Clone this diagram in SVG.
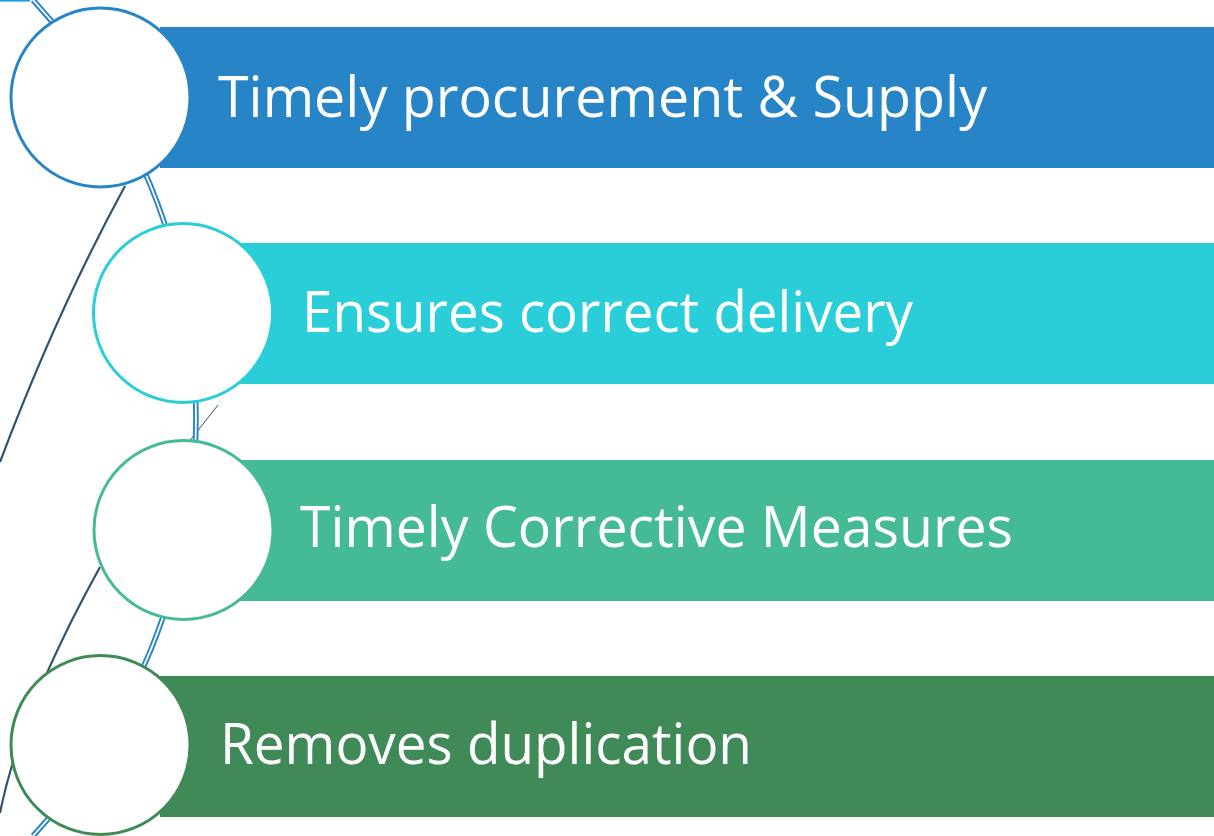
<svg xmlns="http://www.w3.org/2000/svg" width="1214" height="836" viewBox="0 0 1214 836">
<style>
.lbl{font-family:"Open Sans","Noto Sans","Liberation Sans",sans-serif;font-size:57px;fill:#ffffff;}
.node circle{fill:#ffffff;stroke-width:3;}
.dark{fill:none;stroke:#2E5472;stroke-width:2.2;}
</style>
<rect width="1214" height="836" fill="#ffffff"/>
<g id="connectors">
<rect x="0" y="0" width="30" height="1.6" fill="#1E9DE0"/>
<path d="M 125 186 Q 57 311 0 462" class="dark"/>
<path d="M 100 567 Q 20 712 0 813" class="dark"/>
<path d="M 218 405 L 188 443" fill="none" stroke="#2E5472" stroke-width="1"/>
<path d="M 33 0 A 617.5 617.5 0 0 1 33 836" fill="none" stroke="#2784C7" stroke-width="5.6"/>
<path d="M 33 0 A 617.5 617.5 0 0 1 33 836" fill="none" stroke="#ffffff" stroke-width="1.8"/>
</g>
<g id="node1" class="node">
<rect x="160" y="27" width="1054" height="141" fill="#2784C7"/>
<circle cx="100.5" cy="97.5" r="89.5" stroke="#2784C7"/>
<text class="lbl" x="218" y="117" textLength="769" lengthAdjust="spacingAndGlyphs">Timely procurement &amp; Supply</text>
</g>
<g id="node2" class="node">
<rect x="240" y="243" width="974" height="141" fill="#29CED8"/>
<circle cx="183" cy="313" r="89.5" stroke="#29CED8"/>
<text class="lbl" x="302" y="332" textLength="611" lengthAdjust="spacingAndGlyphs">Ensures correct delivery</text>
</g>
<g id="node3" class="node">
<rect x="240" y="460" width="974" height="141" fill="#44BA96"/>
<circle cx="183.5" cy="530" r="89.5" stroke="#44BA96"/>
<text class="lbl" x="300" y="547" textLength="713" lengthAdjust="spacingAndGlyphs">Timely Corrective Measures</text>
</g>
<g id="node4" class="node">
<rect x="160" y="676" width="1054" height="141" fill="#3F8A56"/>
<circle cx="100.5" cy="745" r="89.5" stroke="#3F8A56"/>
<text class="lbl" x="220" y="764" textLength="532" lengthAdjust="spacingAndGlyphs">Removes duplication</text>
</g>
</svg>
